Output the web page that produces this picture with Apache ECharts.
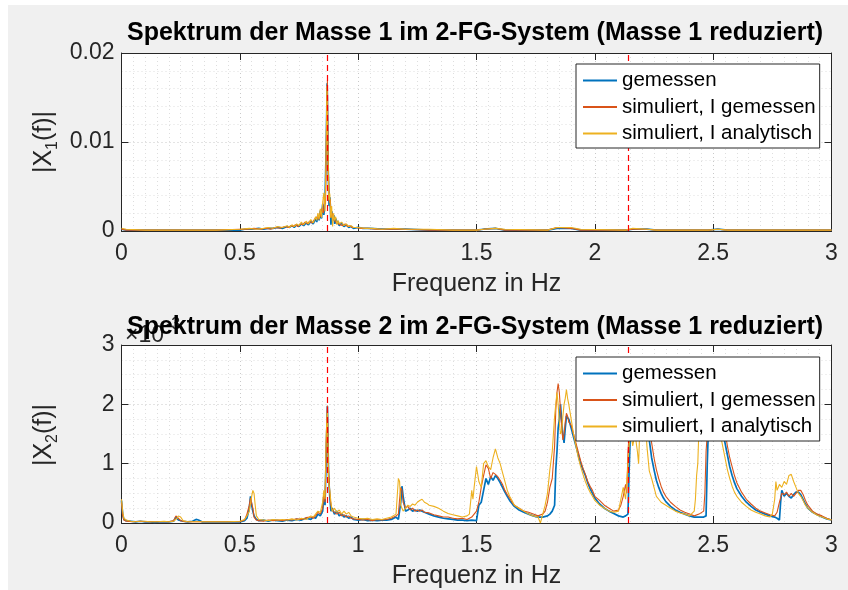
<!DOCTYPE html>
<html>
<head>
<meta charset="utf-8">
<script src="https://cdn.jsdelivr.net/npm/echarts@6/dist/echarts.min.js"></script>
<style>
  html, body { margin: 0; padding: 0; background: #ffffff; }
  #chart { width: 848px; height: 590px; }
</style>
</head>
<body>
<div id="chart"></div>
<script>
// Spektren der beiden Massen im 2-FG-System (Masse 1 reduziert)

const titles = [
  'Spektrum der Masse 1 im 2-FG-System (Masse 1 reduziert)',
  'Spektrum der Masse 2 im 2-FG-System (Masse 1 reduziert)'
];
const seriesNames = ['gemessen', 'simuliert, I gemessen', 'simuliert, I analytisch'];
const xAxisName = 'Frequenz in Hz';
// Eigenfrequenzen (rot gestrichelt), in Hz
const eigenFreqs = [0.87, 2.138];

// Masse 1: |X1(f)|, [Frequenz in Hz, Betrag]
const m1Gemessen = [[0,0.0002],[0.02,0.0001],[0.1,0.0001],[0.2,0.0001],[0.3,0.0001],[0.4,0.0001],[0.5,0.0001],[0.52,0.0002],[0.55,0.0002],[0.58,0.0003],[0.6,0.0002],[0.62,0.0003],[0.64,0.0003],[0.66,0.0004],[0.68,0.0003],[0.7,0.0005],[0.71,0.0004],[0.72,0.0006],[0.73,0.0004],[0.74,0.0007],[0.75,0.0005],[0.76,0.0008],[0.77,0.0006],[0.78,0.0009],[0.79,0.0007],[0.8,0.0011],[0.81,0.0008],[0.82,0.0014],[0.825,0.001],[0.83,0.0018],[0.835,0.0012],[0.84,0.0023],[0.845,0.0014],[0.85,0.003],[0.855,0.0018],[0.86,0.0035],[0.865,0.0095],[0.869,0.0166],[0.873,0.0075],[0.877,0.0028],[0.881,0.0038],[0.885,0.0007],[0.889,0.0022],[0.893,0.0012],[0.897,0.0018],[0.901,0.0008],[0.906,0.0014],[0.91,0.0008],[0.915,0.0011],[0.92,0.0006],[0.93,0.0009],[0.94,0.0005],[0.95,0.0007],[0.96,0.0004],[0.97,0.0005],[0.98,0.0003],[1.0,0.0004],[1.02,0.0003],[1.05,0.0003],[1.1,0.0002],[1.15,0.0002],[1.2,0.0002],[1.3,0.0001],[1.4,0.0001],[1.5,0.0001],[1.53,0.0002],[1.58,0.0003],[1.62,0.0001],[1.8,0.0001],[1.84,0.0003],[1.9,0.0003],[1.94,0.0001],[2.13,0.0001],[2.16,0.0002],[2.22,0.0002],[2.26,0.0001],[2.48,0.0001],[2.52,0.0002],[2.56,0.0001],[2.8,0.0001],[3.0,0.0001]];
const m1SimGemessen = [[0,0.0002],[0.02,0.0001],[0.1,0.0001],[0.2,0.0001],[0.3,0.0001],[0.4,0.0001],[0.5,0.0002],[0.53,0.0002],[0.56,0.0003],[0.59,0.0002],[0.61,0.0003],[0.63,0.0002],[0.65,0.0004],[0.67,0.0003],[0.69,0.0005],[0.705,0.0004],[0.715,0.0006],[0.725,0.0005],[0.735,0.0007],[0.745,0.0005],[0.755,0.0008],[0.765,0.0007],[0.775,0.001],[0.785,0.0008],[0.795,0.0011],[0.805,0.0009],[0.815,0.0013],[0.822,0.0011],[0.828,0.0016],[0.833,0.0013],[0.838,0.002],[0.843,0.0016],[0.848,0.0026],[0.853,0.002],[0.858,0.0038],[0.862,0.003],[0.866,0.011],[0.87,0.0169],[0.874,0.007],[0.878,0.0032],[0.882,0.0036],[0.886,0.0015],[0.89,0.002],[0.895,0.0014],[0.9,0.0016],[0.905,0.001],[0.91,0.0012],[0.917,0.0008],[0.925,0.001],[0.935,0.0006],[0.945,0.0008],[0.955,0.0005],[0.965,0.0006],[0.975,0.0004],[0.99,0.0004],[1.01,0.0003],[1.04,0.0003],[1.08,0.0002],[1.15,0.0002],[1.2,0.0002],[1.3,0.0001],[1.4,0.0001],[1.5,0.0001],[1.53,0.0002],[1.58,0.0003],[1.62,0.0001],[1.8,0.0001],[1.84,0.0004],[1.9,0.0003],[1.94,0.0001],[2.13,0.0001],[2.16,0.0002],[2.22,0.0002],[2.26,0.0001],[2.48,0.0001],[2.52,0.0002],[2.56,0.0001],[2.8,0.0001],[3.0,0.0001]];
const m1SimAnalytisch = [[0,0.0003],[0.02,0.0002],[0.1,0.0001],[0.2,0.0001],[0.3,0.0001],[0.4,0.0001],[0.5,0.0002],[0.54,0.0003],[0.57,0.0002],[0.6,0.0003],[0.62,0.0004],[0.64,0.0003],[0.66,0.0005],[0.68,0.0004],[0.7,0.0006],[0.71,0.0004],[0.72,0.0007],[0.73,0.0005],[0.74,0.0008],[0.75,0.0006],[0.76,0.001],[0.77,0.0007],[0.78,0.0011],[0.79,0.0008],[0.8,0.0013],[0.81,0.0009],[0.82,0.0016],[0.825,0.0012],[0.83,0.002],[0.835,0.0013],[0.84,0.0025],[0.845,0.0015],[0.85,0.0032],[0.855,0.0043],[0.86,0.0022],[0.864,0.008],[0.868,0.0163],[0.872,0.009],[0.876,0.0035],[0.88,0.0042],[0.884,0.0015],[0.888,0.0028],[0.892,0.0005],[0.896,0.002],[0.9,0.0012],[0.905,0.0016],[0.91,0.0007],[0.915,0.0012],[0.92,0.0008],[0.93,0.001],[0.94,0.0006],[0.95,0.0008],[0.96,0.0005],[0.97,0.0006],[0.98,0.0004],[1.0,0.0004],[1.03,0.0003],[1.06,0.0003],[1.1,0.0002],[1.15,0.0003],[1.2,0.0002],[1.3,0.0002],[1.4,0.0001],[1.5,0.0001],[1.53,0.0002],[1.58,0.0003],[1.62,0.0002],[1.8,0.0001],[1.84,0.0004],[1.9,0.0004],[1.94,0.0002],[2.13,0.0001],[2.16,0.0003],[2.22,0.0002],[2.26,0.0001],[2.48,0.0001],[2.52,0.0002],[2.56,0.0001],[2.8,0.0001],[3.0,0.0001]];

// Masse 2: |X2(f)| in Einheiten von 1e-3, [Frequenz in Hz, Betrag]
const m2Gemessen = [[0,0.38],[0.005,0.15],[0.01,0.06],[0.02,0.04],[0.04,0.03],[0.06,0.02],[0.08,0.03],[0.1,0.02],[0.12,0.02],[0.14,0.01],[0.16,0.02],[0.18,0.02],[0.2,0.02],[0.22,0.03],[0.23,0.1],[0.235,0.12],[0.24,0.05],[0.26,0.03],[0.28,0.02],[0.3,0.03],[0.315,0.06],[0.325,0.05],[0.34,0.02],[0.36,0.02],[0.38,0.02],[0.4,0.02],[0.42,0.02],[0.44,0.02],[0.46,0.02],[0.48,0.02],[0.5,0.02],[0.52,0.04],[0.53,0.08],[0.54,0.25],[0.545,0.45],[0.55,0.3],[0.555,0.2],[0.56,0.12],[0.57,0.06],[0.58,0.04],[0.6,0.05],[0.62,0.03],[0.64,0.05],[0.66,0.04],[0.68,0.03],[0.7,0.05],[0.72,0.04],[0.74,0.06],[0.76,0.05],[0.78,0.08],[0.8,0.06],[0.81,0.1],[0.82,0.08],[0.83,0.15],[0.84,0.12],[0.85,0.2],[0.855,0.45],[0.86,0.3],[0.865,1.2],[0.87,1.97],[0.875,0.8],[0.88,0.45],[0.885,0.2],[0.89,0.25],[0.9,0.15],[0.91,0.2],[0.92,0.12],[0.93,0.15],[0.94,0.1],[0.95,0.12],[0.96,0.08],[0.97,0.1],[0.98,0.06],[1.0,0.05],[1.02,0.06],[1.04,0.04],[1.06,0.05],[1.08,0.04],[1.1,0.05],[1.12,0.05],[1.14,0.06],[1.16,0.1],[1.17,0.06],[1.18,0.35],[1.185,0.62],[1.19,0.45],[1.2,0.2],[1.21,0.22],[1.22,0.25],[1.23,0.2],[1.24,0.22],[1.25,0.2],[1.26,0.22],[1.27,0.2],[1.28,0.18],[1.3,0.15],[1.32,0.12],[1.34,0.1],[1.36,0.08],[1.38,0.07],[1.4,0.06],[1.42,0.05],[1.44,0.05],[1.46,0.04],[1.48,0.05],[1.5,0.04],[1.51,0.3],[1.52,0.35],[1.53,0.55],[1.54,0.75],[1.55,0.65],[1.56,0.78],[1.57,0.72],[1.58,0.8],[1.59,0.75],[1.6,0.68],[1.61,0.6],[1.62,0.52],[1.63,0.45],[1.64,0.38],[1.65,0.33],[1.66,0.28],[1.68,0.22],[1.7,0.18],[1.72,0.15],[1.74,0.12],[1.76,0.1],[1.78,0.1],[1.8,0.12],[1.81,0.15],[1.82,0.2],[1.83,0.3],[1.835,0.9],[1.84,1.2],[1.845,1.6],[1.85,1.75],[1.855,2.0],[1.86,1.7],[1.865,1.5],[1.87,1.35],[1.875,1.6],[1.88,1.8],[1.885,1.78],[1.89,1.75],[1.9,1.6],[1.91,1.45],[1.92,1.3],[1.93,1.15],[1.94,1.0],[1.95,0.9],[1.96,0.8],[1.97,0.68],[1.98,0.58],[1.99,0.5],[2.0,0.42],[2.02,0.32],[2.04,0.25],[2.06,0.2],[2.08,0.16],[2.1,0.12],[2.12,0.1],[2.13,0.12],[2.14,0.15],[2.145,0.9],[2.15,1.5],[2.16,1.9],[2.17,2.1],[2.18,2.3],[2.19,2.2],[2.2,2.25],[2.21,2.1],[2.22,1.8],[2.23,1.4],[2.24,1.1],[2.25,0.9],[2.26,0.72],[2.27,0.6],[2.28,0.5],[2.29,0.42],[2.3,0.36],[2.32,0.28],[2.34,0.22],[2.36,0.18],[2.38,0.15],[2.4,0.12],[2.42,0.1],[2.44,0.1],[2.46,0.1],[2.47,0.12],[2.475,1.0],[2.48,1.6],[2.49,2.0],[2.5,2.3],[2.51,2.2],[2.52,2.35],[2.53,2.0],[2.54,1.55],[2.55,1.35],[2.56,1.15],[2.57,0.95],[2.58,0.8],[2.59,0.68],[2.6,0.58],[2.62,0.45],[2.64,0.35],[2.66,0.28],[2.68,0.22],[2.7,0.18],[2.72,0.15],[2.74,0.12],[2.76,0.1],[2.77,0.08],[2.78,0.05],[2.785,0.35],[2.79,0.55],[2.8,0.45],[2.81,0.5],[2.82,0.45],[2.83,0.42],[2.84,0.48],[2.85,0.52],[2.86,0.52],[2.87,0.48],[2.88,0.4],[2.89,0.32],[2.9,0.25],[2.92,0.18],[2.94,0.14],[2.96,0.1],[2.98,0.07],[3.0,0.05]];
const m2SimGemessen = [[0,0.35],[0.005,0.12],[0.01,0.05],[0.02,0.03],[0.05,0.02],[0.08,0.03],[0.1,0.02],[0.13,0.02],[0.16,0.02],[0.2,0.02],[0.22,0.04],[0.23,0.12],[0.24,0.08],[0.25,0.04],[0.27,0.02],[0.3,0.02],[0.35,0.02],[0.4,0.02],[0.45,0.02],[0.5,0.02],[0.52,0.05],[0.53,0.15],[0.54,0.3],[0.545,0.42],[0.55,0.45],[0.555,0.25],[0.56,0.1],[0.57,0.05],[0.58,0.04],[0.6,0.03],[0.62,0.05],[0.64,0.04],[0.66,0.05],[0.68,0.04],[0.7,0.06],[0.72,0.05],[0.74,0.07],[0.76,0.06],[0.78,0.09],[0.8,0.1],[0.81,0.08],[0.82,0.12],[0.83,0.18],[0.84,0.15],[0.85,0.25],[0.855,0.5],[0.86,0.35],[0.865,1.3],[0.87,1.98],[0.875,0.9],[0.88,0.5],[0.885,0.3],[0.89,0.22],[0.9,0.18],[0.91,0.15],[0.92,0.18],[0.93,0.12],[0.94,0.14],[0.95,0.1],[0.96,0.12],[0.97,0.08],[0.98,0.07],[1.0,0.06],[1.02,0.05],[1.04,0.06],[1.06,0.04],[1.08,0.06],[1.1,0.05],[1.12,0.06],[1.14,0.08],[1.16,0.12],[1.17,0.15],[1.175,0.4],[1.18,0.6],[1.185,0.55],[1.19,0.35],[1.2,0.25],[1.21,0.28],[1.22,0.22],[1.23,0.25],[1.24,0.2],[1.25,0.22],[1.26,0.2],[1.27,0.22],[1.28,0.18],[1.3,0.17],[1.32,0.14],[1.34,0.12],[1.36,0.1],[1.38,0.1],[1.4,0.08],[1.42,0.07],[1.44,0.08],[1.46,0.06],[1.48,0.1],[1.49,0.15],[1.5,0.2],[1.51,0.35],[1.52,0.6],[1.53,0.8],[1.54,0.98],[1.55,0.92],[1.56,0.75],[1.57,0.85],[1.58,0.82],[1.59,0.78],[1.6,0.72],[1.61,0.65],[1.62,0.55],[1.63,0.48],[1.64,0.42],[1.65,0.35],[1.66,0.3],[1.68,0.25],[1.7,0.2],[1.72,0.18],[1.74,0.15],[1.76,0.12],[1.78,0.15],[1.79,0.2],[1.8,0.35],[1.81,0.6],[1.82,0.75],[1.83,1.3],[1.835,1.9],[1.84,2.2],[1.845,2.35],[1.85,2.2],[1.855,1.9],[1.86,1.6],[1.865,1.4],[1.87,1.5],[1.875,1.7],[1.88,1.85],[1.885,1.8],[1.89,1.7],[1.9,1.65],[1.91,1.5],[1.92,1.35],[1.93,1.2],[1.94,1.05],[1.95,0.92],[1.96,0.82],[1.97,0.7],[1.98,0.62],[1.99,0.55],[2.0,0.45],[2.02,0.38],[2.04,0.3],[2.06,0.25],[2.08,0.2],[2.1,0.22],[2.11,0.3],[2.12,0.45],[2.13,0.65],[2.135,0.5],[2.14,1.2],[2.15,1.8],[2.16,2.1],[2.17,2.3],[2.18,2.2],[2.19,2.4],[2.2,2.3],[2.21,2.2],[2.22,2.0],[2.23,1.7],[2.24,1.35],[2.25,1.1],[2.26,0.9],[2.27,0.75],[2.28,0.62],[2.29,0.52],[2.3,0.45],[2.32,0.35],[2.34,0.28],[2.36,0.22],[2.38,0.18],[2.4,0.15],[2.42,0.12],[2.44,0.15],[2.46,0.2],[2.465,0.5],[2.47,1.2],[2.48,1.8],[2.49,2.1],[2.5,2.35],[2.51,2.3],[2.52,2.4],[2.53,2.1],[2.54,1.8],[2.55,1.55],[2.56,1.3],[2.57,1.1],[2.58,0.95],[2.59,0.8],[2.6,0.68],[2.62,0.52],[2.64,0.4],[2.66,0.32],[2.68,0.25],[2.7,0.2],[2.72,0.17],[2.74,0.14],[2.76,0.12],[2.77,0.18],[2.78,0.35],[2.79,0.5],[2.8,0.48],[2.81,0.52],[2.82,0.45],[2.83,0.5],[2.84,0.45],[2.85,0.5],[2.86,0.55],[2.87,0.55],[2.88,0.48],[2.89,0.38],[2.9,0.3],[2.92,0.2],[2.94,0.15],[2.96,0.12],[2.98,0.08],[3.0,0.05]];
const m2SimAnalytisch = [[0,0.4],[0.005,0.2],[0.01,0.08],[0.02,0.05],[0.04,0.03],[0.06,0.02],[0.08,0.03],[0.1,0.03],[0.12,0.02],[0.15,0.02],[0.18,0.03],[0.2,0.02],[0.22,0.03],[0.235,0.08],[0.24,0.12],[0.245,0.15],[0.25,0.1],[0.26,0.04],[0.28,0.02],[0.3,0.02],[0.35,0.02],[0.4,0.02],[0.45,0.02],[0.5,0.03],[0.52,0.06],[0.53,0.12],[0.54,0.2],[0.55,0.45],[0.555,0.55],[0.56,0.5],[0.565,0.3],[0.57,0.12],[0.58,0.06],[0.6,0.05],[0.62,0.04],[0.64,0.06],[0.66,0.05],[0.68,0.06],[0.7,0.05],[0.72,0.07],[0.74,0.05],[0.76,0.08],[0.78,0.06],[0.8,0.12],[0.81,0.1],[0.82,0.15],[0.83,0.2],[0.84,0.18],[0.85,0.35],[0.855,0.55],[0.86,0.4],[0.865,1.5],[0.87,1.9],[0.875,0.7],[0.88,0.55],[0.885,0.35],[0.89,0.2],[0.9,0.25],[0.91,0.18],[0.92,0.22],[0.93,0.15],[0.94,0.2],[0.95,0.15],[0.96,0.18],[0.97,0.12],[0.98,0.1],[1.0,0.08],[1.02,0.07],[1.04,0.08],[1.06,0.06],[1.08,0.07],[1.1,0.06],[1.12,0.08],[1.14,0.1],[1.16,0.15],[1.17,0.75],[1.175,0.7],[1.18,0.3],[1.19,0.2],[1.2,0.25],[1.21,0.3],[1.22,0.28],[1.23,0.32],[1.24,0.3],[1.25,0.35],[1.26,0.38],[1.27,0.4],[1.28,0.35],[1.29,0.33],[1.3,0.3],[1.32,0.28],[1.34,0.25],[1.36,0.2],[1.38,0.16],[1.4,0.14],[1.42,0.12],[1.44,0.1],[1.46,0.12],[1.47,0.15],[1.48,0.55],[1.485,0.4],[1.49,0.6],[1.5,0.95],[1.51,0.7],[1.52,0.6],[1.53,1.0],[1.54,1.05],[1.55,0.95],[1.56,0.9],[1.57,1.1],[1.58,1.25],[1.59,1.1],[1.6,1.0],[1.61,0.85],[1.62,0.7],[1.63,0.55],[1.64,0.45],[1.65,0.38],[1.66,0.3],[1.68,0.25],[1.7,0.2],[1.72,0.15],[1.74,0.12],[1.76,0.1],[1.77,0.0],[1.78,0.15],[1.79,0.3],[1.8,0.5],[1.81,0.9],[1.82,1.2],[1.83,1.8],[1.835,2.0],[1.84,2.2],[1.845,2.0],[1.85,1.7],[1.855,1.5],[1.86,1.55],[1.865,1.8],[1.87,2.0],[1.875,2.1],[1.88,2.25],[1.885,2.1],[1.89,2.0],[1.9,1.75],[1.91,1.5],[1.92,1.3],[1.93,1.1],[1.94,0.95],[1.95,0.82],[1.96,0.7],[1.97,0.6],[1.98,0.52],[1.99,0.45],[2.0,0.38],[2.02,0.3],[2.04,0.25],[2.06,0.2],[2.08,0.18],[2.1,0.2],[2.11,0.4],[2.12,0.6],[2.13,0.4],[2.14,1.0],[2.15,1.6],[2.16,1.3],[2.17,1.5],[2.18,1.2],[2.185,1.0],[2.19,1.6],[2.2,2.2],[2.21,2.0],[2.22,1.3],[2.23,0.88],[2.24,0.75],[2.25,0.6],[2.26,0.45],[2.27,0.4],[2.28,0.35],[2.3,0.3],[2.32,0.25],[2.34,0.2],[2.36,0.17],[2.38,0.15],[2.4,0.12],[2.42,0.2],[2.425,0.4],[2.43,0.8],[2.435,1.0],[2.44,1.6],[2.45,2.0],[2.46,2.3],[2.47,2.2],[2.48,2.4],[2.49,2.1],[2.5,2.3],[2.51,2.0],[2.52,1.7],[2.53,1.5],[2.54,1.3],[2.55,1.1],[2.56,0.9],[2.57,0.75],[2.58,0.62],[2.59,0.52],[2.6,0.45],[2.62,0.35],[2.64,0.28],[2.66,0.22],[2.68,0.18],[2.7,0.15],[2.72,0.12],[2.74,0.1],[2.75,0.15],[2.76,0.4],[2.765,0.7],[2.77,0.55],[2.78,0.65],[2.79,0.6],[2.8,0.7],[2.81,0.65],[2.82,0.8],[2.83,0.82],[2.84,0.7],[2.85,0.6],[2.86,0.5],[2.87,0.45],[2.88,0.38],[2.89,0.3],[2.9,0.25],[2.92,0.18],[2.94,0.13],[2.96,0.1],[2.98,0.07],[3.0,0.05]];

const FONT = '"Liberation Sans", Arial, Helvetica, sans-serif';
const AX = '#262626';
const GRIDC = '#c9c9c9';
const COLORS = ['#0072BD', '#D95319', '#EDB120'];
const WIDTHS = [1.7, 1.1, 1.1];

const grids = [
  { left: 121.5, top: 53, width: 710, height: 178 },
  { left: 121.5, top: 345, width: 710, height: 179 }
];

function mainX(gi) {
  return {
    type: 'value', gridIndex: gi, min: 0, max: 3, interval: 0.5, position: 'bottom',
    name: xAxisName, nameLocation: 'middle', nameGap: 41,
    nameTextStyle: { fontFamily: FONT, fontSize: 25, color: AX },
    axisLine: { show: true, onZero: false, lineStyle: { color: AX, width: 1 } },
    axisTick: { show: true, inside: true, length: 7, lineStyle: { color: AX } },
    axisLabel: { fontFamily: FONT, fontSize: 23, color: AX, margin: 11 },
    splitLine: { show: true, lineStyle: { color: GRIDC, type: [1, 3], width: 1 } },
    minorTick: { show: false, splitNumber: 10 },
    minorSplitLine: { show: true, lineStyle: { color: '#dedede', type: [1, 3], width: 1 } }
  };
}
function boxX(gi) {
  return {
    type: 'value', gridIndex: gi, min: 0, max: 3, interval: 0.5, position: 'top',
    axisLine: { show: true, onZero: false, lineStyle: { color: AX, width: 1 } },
    axisTick: { show: true, inside: true, length: 7, lineStyle: { color: AX } },
    axisLabel: { show: false }, splitLine: { show: false }
  };
}
function mainY(gi, max, interval, minorSplit) {
  return {
    type: 'value', gridIndex: gi, min: 0, max: max, interval: interval, position: 'left',
    axisLine: { show: true, onZero: false, lineStyle: { color: AX, width: 1 } },
    axisTick: { show: true, inside: true, length: 7, lineStyle: { color: AX } },
    axisLabel: { fontFamily: FONT, fontSize: 23, color: AX, margin: 7 },
    splitLine: { show: true, lineStyle: { color: GRIDC, type: [1, 3], width: 1 } },
    minorTick: { show: false, splitNumber: minorSplit },
    minorSplitLine: { show: true, lineStyle: { color: '#dedede', type: [1, 3], width: 1 } }
  };
}
function boxY(gi, max, interval) {
  return {
    type: 'value', gridIndex: gi, min: 0, max: max, interval: interval, position: 'right',
    axisLine: { show: true, onZero: false, lineStyle: { color: AX, width: 1 } },
    axisTick: { show: true, inside: true, length: 7, lineStyle: { color: AX } },
    axisLabel: { show: false }, splitLine: { show: false }
  };
}

function lineSeries(name, data, idx, axisIdx) {
  return {
    name: name, type: 'line', data: data,
    xAxisIndex: axisIdx, yAxisIndex: axisIdx,
    showSymbol: false, symbol: 'none', smooth: false, clip: true,
    lineStyle: { color: COLORS[idx], width: WIDTHS[idx] },
    itemStyle: { color: COLORS[idx] },
    emphasis: { disabled: true }, z: 2 + idx
  };
}
function eigenLines() {
  return {
    silent: true, symbol: ['none', 'none'], label: { show: false },
    lineStyle: { color: '#ff0000', type: [6, 4], width: 1.2 },
    emphasis: { disabled: true },
    data: eigenFreqs.map(f => ({ xAxis: f }))
  };
}

const top3 = [m1Gemessen, m1SimGemessen, m1SimAnalytisch];
const bot3 = [m2Gemessen, m2SimGemessen, m2SimAnalytisch];
const series = [];
top3.forEach((d, i) => series.push(lineSeries(seriesNames[i], d, i, 0)));
bot3.forEach((d, i) => series.push(lineSeries(seriesNames[i], d, i, 2)));
series[2].markLine = eigenLines();
series[5].markLine = eigenLines();

function legendAt(top) {
  return {
    show: true, orient: 'vertical', left: 576, top: top, z: 20,
    data: seriesNames, selectedMode: false,
    backgroundColor: '#ffffff', borderColor: AX, borderWidth: 1, borderRadius: 0,
    padding: [6, 4, 4, 7], itemGap: 5.5, itemWidth: 34, itemHeight: 2,
    icon: 'rect',
    textStyle: { fontFamily: FONT, fontSize: 20.5, color: '#000', lineHeight: 20, padding: [0, 0, 0, 0] }
  };
}

// Achsenbeschriftung mit tiefgestelltem Index
function yNameStyle(index) {
  return {
    text: '{a||X}{s|' + index + '}{a|(f)|}',
    align: 'center', verticalAlign: 'middle',
    rich: {
      a: { fontFamily: FONT, fontSize: 25, fill: AX, lineHeight: 34, verticalAlign: 'middle' },
      s: { fontFamily: FONT, fontSize: 16, fill: AX, lineHeight: 14, verticalAlign: 'bottom' }
    }
  };
}

const option = {
  animation: false,
  backgroundColor: '#f0f0f0',
  grid: grids.map(g => Object.assign({ show: true, backgroundColor: '#ffffff', borderWidth: 0, containLabel: false }, g)),
  xAxis: [mainX(0), boxX(0), mainX(1), boxX(1)],
  yAxis: [mainY(0, 0.02, 0.01, 5), boxY(0, 0.02, 0.01), mainY(1, 3, 1, 4), boxY(1, 3, 1)],
  legend: [legendAt(64), legendAt(357)],
  series: series,
  graphic: { elements: [
    { type: 'rect', shape: { x: 0, y: 0, width: 848, height: 5 }, style: { fill: '#ffffff' }, silent: true },
    { type: 'rect', shape: { x: 0, y: 0, width: 8, height: 590 }, style: { fill: '#ffffff' }, silent: true },
    { type: 'text', x: 125, y: 336, z: 1, silent: true,
      style: { text: '×10', fontFamily: FONT, fontSize: 23, fill: AX, align: 'left', verticalAlign: 'middle' } },
    { type: 'text', x: 166, y: 325, z: 1, silent: true,
      style: { text: '-3', fontFamily: FONT, fontSize: 16, fill: AX, align: 'left', verticalAlign: 'middle' } },
    { type: 'text', x: 475, y: 33, z: 5, silent: true,
      style: { text: titles[0], fontFamily: FONT, fontWeight: 'bold', fontSize: 25, fill: '#000', align: 'center', verticalAlign: 'middle' } },
    { type: 'text', x: 475, y: 327, z: 5, silent: true,
      style: { text: titles[1], fontFamily: FONT, fontWeight: 'bold', fontSize: 25, fill: '#000', align: 'center', verticalAlign: 'middle' } },
    { type: 'text', x: 44, y: 142, rotation: Math.PI / 2, silent: true, style: yNameStyle(1) },
    { type: 'text', x: 44, y: 435, rotation: Math.PI / 2, silent: true, style: yNameStyle(2) }
  ] }
};

const chart = echarts.init(document.getElementById('chart'), null, { renderer: 'canvas' });
chart.setOption(option);
</script>
</body>
</html>
